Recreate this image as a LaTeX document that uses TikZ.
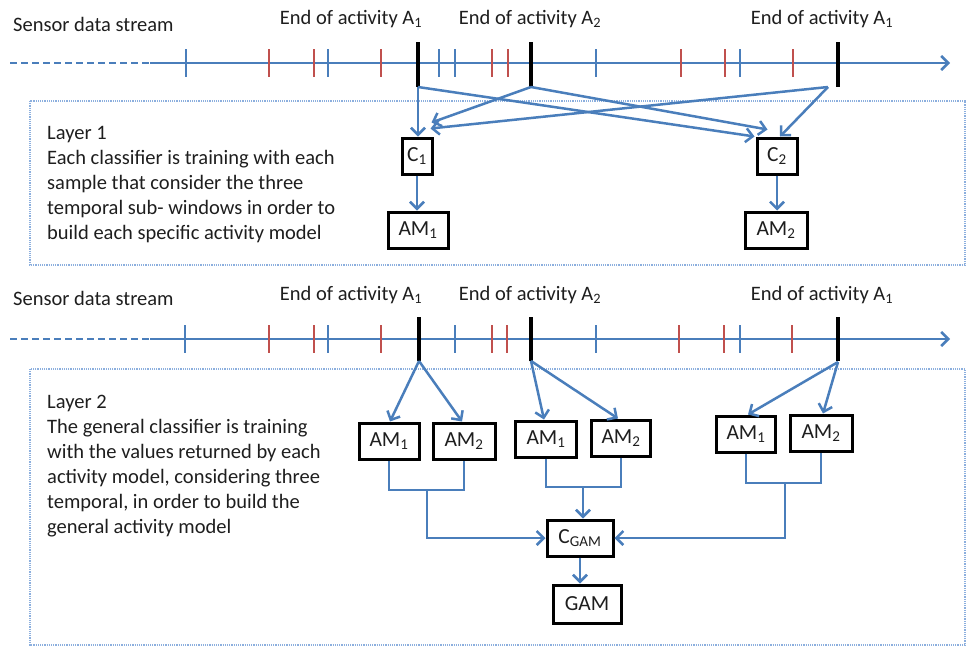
\documentclass[tikz,border=0pt]{standalone}
\usepackage{fontspec}
\setmainfont{Carlito}
\usetikzlibrary{arrows.meta}

\definecolor{lineblue}{RGB}{74,126,187}
\definecolor{tickred}{RGB}{192,80,77}
\definecolor{frameblue}{RGB}{140,175,222}
\definecolor{textgray}{RGB}{30,30,30}

\begin{document}
\begin{tikzpicture}[x=1pt, y=-1pt,
    link/.style={draw=lineblue, line width=2.5pt},
    flow/.style={link, -{Straight Barb[length=7pt, width=14pt, line width=2.5pt]}},
    mark blue/.style={draw=lineblue, line width=2.5pt},
    mark red/.style={draw=tickred, line width=2.5pt},
    mark end/.style={draw=black, line width=4pt},
    model/.style={draw=black, line width=3pt, fill=white, minimum height=36pt,
        inner sep=2pt, font=\fontsize{21.5}{25}\selectfont, text=textgray},
    layer/.style={draw=frameblue, densely dotted, line width=1.2pt},
    label/.style={font=\fontsize{20.5}{25}\selectfont, text=textgray, inner sep=0pt}
  ]
  \useasboundingbox (0,0) rectangle (967,646);

  % layer frames
  \draw[layer] (30,101) rectangle (965,265);
  \draw[layer] (30,369) rectangle (965,645);

  % ---- first stream ----
  \node[label, anchor=base west] (src1) at (13,31) {Sensor data stream};
  \node[label, anchor=base] (endA1) at (351,24) {End of activity A\textsubscript{1}};
  \node[label, anchor=base] (endA2) at (530,24) {End of activity A\textsubscript{2}};
  \node[label, anchor=base] (endA3) at (822,24) {End of activity A\textsubscript{1}};

  \draw[link, line width=2pt, dash pattern=on 7pt off 4pt] (10,63) -- (150,63);
  \draw[flow] (150,63) -- (950,63);
  \foreach \x in {186,328,439,455,596,740}
    \draw[mark blue] (\x,49) -- (\x,77);
  \foreach \x in {269,314,381,492,508,681,725,793}
    \draw[mark red] (\x,49) -- (\x,77);
  \foreach \x in {418,531,838}
    \draw[mark end] (\x,42) -- (\x,87);

  \coordinate (e1) at (418,87);
  \coordinate (e2) at (531,87);
  \coordinate (s3) at (828,87);

  % layer 1
  \node[label, anchor=north west, align=left] (txt1) at (47,126)
    {Layer 1\\Each classifier is training with each\\sample that consider the three\\
     temporal sub- windows in order to\\build each specific activity model};

  \node[model, minimum width=30pt] (c1) at (417,156) {C\textsubscript{1}};
  \node[model, minimum width=40pt] (c2) at (777,156) {C\textsubscript{2}};
  \node[model, minimum width=60pt] (am1) at (418,230) {AM\textsubscript{1}};
  \node[model, minimum width=62pt] (am2) at (776,230) {AM\textsubscript{2}};

  \draw[flow] (e1) -- (e1 |- c1.north);
  \draw[flow] (e1) -- ([xshift=-1pt]c2.north west);
  \draw[flow] (e2) -- ([xshift=-2pt, yshift=14pt]c1.north east);
  \draw[flow] (e2) -- ([xshift=12pt, yshift=7pt]c2.north west);
  \draw[flow] (s3) -- ([xshift=-3pt, yshift=8pt]c1.north east);
  \draw[flow] (s3) -- ([xshift=3pt]c2.north);
  \draw[flow] (c1.south) -- (c1.south |- am1.north);
  \draw[flow] (c2.south) -- (c2.south |- am2.north);

  % ---- second stream ----
  \node[label, anchor=base west] (src2) at (13,305) {Sensor data stream};
  \node[label, anchor=base] (endB1) at (351,300) {End of activity A\textsubscript{1}};
  \node[label, anchor=base] (endB2) at (530,300) {End of activity A\textsubscript{2}};
  \node[label, anchor=base] (endB3) at (822,300) {End of activity A\textsubscript{1}};

  \draw[link, line width=2pt, dash pattern=on 7pt off 4pt] (10,339) -- (150,339);
  \draw[flow] (150,339) -- (950,339);
  \foreach \x in {185,328,455,596,740}
    \draw[mark blue] (\x,325) -- (\x,353);
  \foreach \x in {269,314,381,492,507,679,724,792}
    \draw[mark red] (\x,325) -- (\x,353);
  \foreach \x in {419,531,838}
    \draw[mark end] (\x,317) -- (\x,361);

  \coordinate (f1) at (419,361);
  \coordinate (f2) at (531,361);
  \coordinate (f3) at (838,362);

  % layer 2
  \node[label, anchor=north west, align=left] (txt2) at (47,395)
    {Layer 2\\The general classifier is training\\with the values returned by each\\
     activity model, considering three\\temporal, in order to build the\\general activity model};

  \node[model, minimum width=60pt] (amA1) at (389,441) {AM\textsubscript{1}};
  \node[model, minimum width=62pt] (amA2) at (464,441) {AM\textsubscript{2}};
  \node[model, minimum width=61pt] (amB1) at (546,439) {AM\textsubscript{1}};
  \node[model, minimum width=59pt] (amB2) at (621,438) {AM\textsubscript{2}};
  \node[model, minimum width=59pt] (amC1) at (746,434) {AM\textsubscript{1}};
  \node[model, minimum width=62pt] (amC2) at (821,433) {AM\textsubscript{2}};
  \node[model, minimum width=66pt] (cgam) at (580,538) {C\textsubscript{GAM}};
  \node[model, minimum width=68pt, minimum height=38pt] (gam) at (587,604) {GAM};

  \draw[flow] (f1) -- ([xshift=1pt]amA1.north);
  \draw[flow] (f1) -- ([xshift=-2pt]amA2.north);
  \draw[flow] (f2) -- ([xshift=-2pt]amB1.north);
  \draw[flow] (f2) -- ([xshift=-3pt]amB2.north);
  \draw[flow] (f3) -- ([xshift=2pt]amC1.north);
  \draw[flow] (f3) -- ([xshift=2pt]amC2.north);

  \coordinate (j1) at (427,490);
  \coordinate (j2) at (583,487);
  \coordinate (j3) at (785,483);
  \draw[link] (amA1.south) |- (j1) -| (amA2.south);
  \draw[link] (amB1.south) |- (j2) -| (amB2.south);
  \draw[link] (amC1.south) |- (j3) -| (amC2.south);
  \draw[flow] (j1) |- (cgam.west);
  \draw[flow] (j2) -- (j2 |- cgam.north);
  \draw[flow] (j3) |- (cgam.east);
  \draw[flow] (cgam.south) -- (cgam.south |- gam.north);
\end{tikzpicture}
\end{document}
